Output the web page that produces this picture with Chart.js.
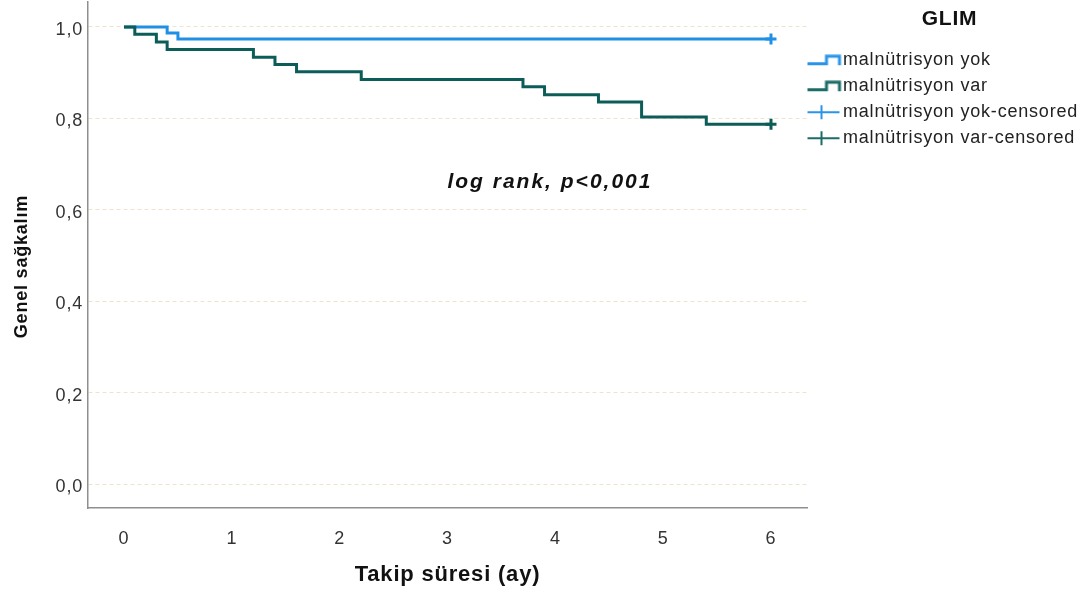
<!DOCTYPE html>
<html>
<head>
<meta charset="utf-8">
<script src="https://cdn.jsdelivr.net/npm/chart.js@4.4.0/dist/chart.umd.min.js"></script>
<style>
  html, body { margin: 0; padding: 0; background: #fff; }
  #wrap { width: 1092px; height: 597px; }
</style>
</head>
<body>
<div id="wrap"><canvas id="km"></canvas></div>
<script>
// Kaplan-Meier survival, GLIM groups
const groupNames = ['malnütrisyon yok', 'malnütrisyon var'];
const yokTimes = [0, 0.4, 0.5, 6];
const yokSurv = [1, 0.987, 0.974, 0.974];
const varTimes = [0, 0.1, 0.3, 0.4, 1.2, 1.4, 1.6, 2.2, 3.7, 3.9, 4.4, 4.8, 5.4, 6];
const varSurv = [1, 0.984, 0.967, 0.951, 0.934, 0.918, 0.902, 0.885, 0.869, 0.852, 0.836, 0.803, 0.787, 0.787];
const yokCensored = [6];
const varCensored = [6];
const xTicks = [0, 1, 2, 3, 4, 5, 6];
const yTicks = [0, 0.2, 0.4, 0.6, 0.8, 1.0];
const noteText = 'log rank, p<0,001';
const noteAt = [3.95, 0.661];

const blue = '#1f90e6';
const teal = '#0c5c58';
const font = '"Liberation Sans", Arial, sans-serif';

// survival value at a censoring time
function survAt(times, surv, t) {
  let s = surv[0];
  times.forEach((tt, i) => { if (tt <= t) s = surv[i]; });
  return s;
}

// little pictures for the legend
function stepIcon(color) {
  const c = document.createElement('canvas');
  c.width = 36; c.height = 12;
  const g = c.getContext('2d');
  g.strokeStyle = color;
  g.lineWidth = 3;
  g.beginPath();
  g.moveTo(1, 9.5); g.lineTo(20, 9.5); g.lineTo(20, 2); g.lineTo(33, 2); g.lineTo(33, 11);
  g.stroke();
  return c;
}
function crossIcon(color) {
  const c = document.createElement('canvas');
  c.width = 36; c.height = 16;
  const g = c.getContext('2d');
  g.strokeStyle = color;
  g.lineWidth = 2;
  g.beginPath();
  g.moveTo(1, 8); g.lineTo(33, 8);
  g.moveTo(15, 1); g.lineTo(15, 15);
  g.stroke();
  return c;
}
const icons = [stepIcon('#2a95e8'), stepIcon('#1b6b66'), crossIcon('#2a95e8'), crossIcon('#1b6b66')];

const legendWidth = 285;
const fixLegend = {
  id: 'fixLegend',
  afterInit(chart) {
    const lg = chart.legend;
    const fit = lg.fit.bind(lg);
    lg.fit = () => { fit(); lg.width = legendWidth; };
  },
  beforeLayout(chart) { chart.ctx.letterSpacing = '0.8px'; },
  beforeDraw(chart) { chart.ctx.letterSpacing = '0.8px'; }
};

const note = {
  id: 'note',
  afterDatasetsDraw(chart) {
    const { ctx, scales: { x, y } } = chart;
    ctx.save();
    ctx.letterSpacing = '2px';
    ctx.font = 'italic bold 21px ' + font;
    ctx.fillStyle = '#111';
    ctx.textAlign = 'center';
    ctx.textBaseline = 'middle';
    ctx.fillText(noteText, x.getPixelForValue(noteAt[0]), y.getPixelForValue(noteAt[1]));
    ctx.restore();
  }
};

Chart.defaults.font.family = font;
Chart.defaults.color = '#222';

new Chart(document.getElementById('km'), {
  type: 'line',
  data: {
    datasets: [
      {
        label: groupNames[0],
        data: yokTimes.map((t, i) => ({ x: t, y: yokSurv[i] })),
        borderColor: blue, borderWidth: 3, stepped: true, pointRadius: 0, order: 2
      },
      {
        label: groupNames[1],
        data: varTimes.map((t, i) => ({ x: t, y: varSurv[i] })),
        borderColor: teal, borderWidth: 3, stepped: true, pointRadius: 0, order: 1
      },
      {
        label: groupNames[0] + '-censored',
        data: yokCensored.map(t => ({ x: t, y: survAt(yokTimes, yokSurv, t) })),
        showLine: false, pointStyle: 'cross', pointRadius: 5.5, borderWidth: 3,
        borderColor: blue, order: 0
      },
      {
        label: groupNames[1] + '-censored',
        data: varCensored.map(t => ({ x: t, y: survAt(varTimes, varSurv, t) })),
        showLine: false, pointStyle: 'cross', pointRadius: 5.5, borderWidth: 3,
        borderColor: teal, order: 0
      }
    ]
  },
  options: {
    responsive: true,
    maintainAspectRatio: false,
    animation: false,
    layout: { autoPadding: false, padding: { top: 2, left: 0, right: 0, bottom: 0 } },
    plugins: {
      tooltip: { enabled: false },
      legend: {
        position: 'right',
        align: 'start',
        title: {
          display: true, text: 'GLIM', color: '#111',
          font: { size: 21, weight: 'bold' },
          padding: { top: 7, bottom: 9 }
        },
        labels: {
          usePointStyle: true,
          pointStyleWidth: 19,
          padding: 8,
          color: '#222',
          font: { size: 18 },
          sort: (a, b) => a.datasetIndex - b.datasetIndex,
          generateLabels(chart) {
            const items = Chart.defaults.plugins.legend.labels.generateLabels(chart);
            items.forEach(it => { it.pointStyle = icons[it.datasetIndex]; });
            return items;
          }
        }
      }
    },
    scales: {
      x: {
        type: 'linear',
        min: -0.334, max: 6.334,
        afterBuildTicks: s => { s.ticks = xTicks.map(v => ({ value: v })); },
        afterFit: s => { s.height = 89; s.paddingLeft = 0; s.paddingRight = 0; },
        grid: { display: false },
        border: { color: '#8f8f8f', width: 1.5 },
        ticks: { font: { size: 18 }, color: '#333', padding: 12 },
        title: {
          display: true, text: 'Takip süresi (ay)', color: '#111',
          font: { size: 22, weight: 'bold' }, padding: { top: 0, bottom: 9 }
        }
      },
      y: {
        type: 'linear',
        min: -0.0525, max: 1.0547,
        afterBuildTicks: s => { s.ticks = yTicks.map(v => ({ value: v })); },
        afterFit: s => { s.width = 88; s.paddingTop = 0; s.paddingBottom = 0; },
        grid: { color: '#ece5cc', lineWidth: 1, drawTicks: false },
        border: { color: '#8f8f8f', width: 1.5, dash: [4, 3] },
        ticks: {
          font: { size: 18 }, color: '#333', padding: 5, labelOffset: 3,
          callback: v => v.toFixed(1).replace('.', ',')
        },
        title: {
          display: true, text: 'Genel sağkalım    ', color: '#111',
          font: { size: 18, weight: 'bold' }, padding: { top: 11, bottom: 0 }
        }
      }
    }
  },
  plugins: [fixLegend, note]
});
</script>
</body>
</html>
